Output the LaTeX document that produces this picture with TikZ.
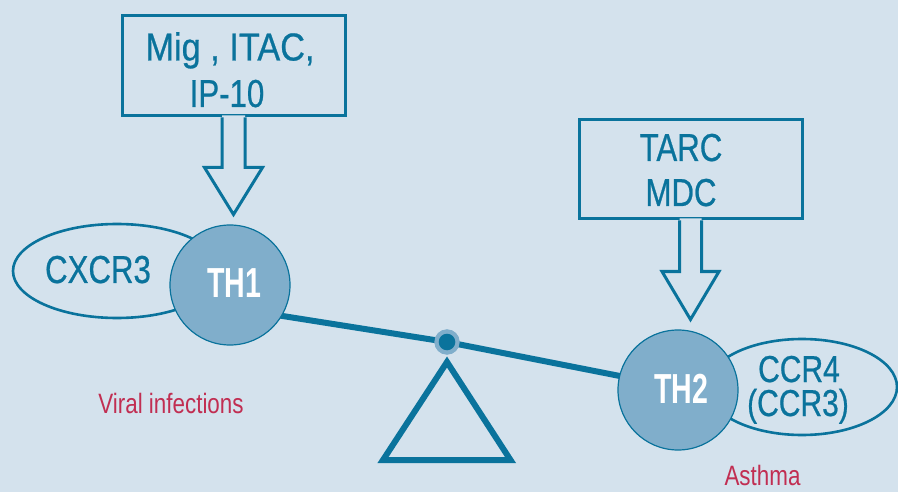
\documentclass[tikz,border=0pt]{standalone}
\usepackage{fontspec}
\setmainfont{Liberation Sans}[FakeStretch=0.8]
\newfontfamily\lblfont{Liberation Sans}[FakeStretch=0.8,FakeBold=0.6]
\newfontfamily\thfont{Liberation Sans}[FakeStretch=0.68]
\newfontfamily\widefont{Liberation Sans}[FakeStretch=0.88,FakeBold=0.6]
\usetikzlibrary{shapes.geometric}
\definecolor{bg}{HTML}{D4E2ED}
\definecolor{mainblue}{HTML}{0A739C}
\definecolor{cellfill}{HTML}{80AECB}
\definecolor{redtxt}{HTML}{C12E52}
\tikzset{
  lbl/.style={inner sep=0pt, anchor=base, text=mainblue, font=\lblfont\fontsize{39}{39}\selectfont},
  smalllbl/.style={inner sep=0pt, anchor=base, text=mainblue, font=\lblfont\fontsize{37.5}{37.5}\selectfont},
  redlbl/.style={inner sep=0pt, anchor=base, text=redtxt, font=\fontsize{28}{28}\selectfont},
  thlbl/.style={inner sep=0pt, anchor=base, text=white, font=\thfont\bfseries\fontsize{42}{42}\selectfont},
  chembox/.style={draw=mainblue, line width=3pt, inner sep=0pt, rectangle},
  arrowfill/.style={fill=bg},
  arrowline/.style={draw=mainblue, line width=3pt, line join=miter},
  receptor/.style={draw=mainblue, line width=2.6pt, ellipse, inner sep=0pt},
  cell/.style={circle, draw=mainblue, line width=1.2pt, fill=cellfill, minimum size=120pt, inner sep=0pt},
  beam/.style={draw=mainblue, line width=6pt},
}
\begin{document}
\begin{tikzpicture}[x=1pt,y=-1pt]
\fill[bg] (0,0) rectangle (898,492);
\useasboundingbox (0,0) rectangle (898,492);

% receptor ellipses
\node[receptor, minimum width=208pt, minimum height=94pt] (cxcr3) at (117,271) {};
\node[receptor, minimum width=190pt, minimum height=96pt] (ccr4) at (802,387) {};

% boxes
\node[chembox, minimum width=223pt, minimum height=100pt] (box1) at (233.5,66) {};
\node[chembox, minimum width=223pt, minimum height=99pt] (box2) at (690.5,169.5) {};

% hollow arrows (box1)
\path[arrowfill] ([xshift=-11.5pt,yshift=2pt]box1.south) -- ([xshift=-11.5pt,yshift=-50pt]box1.south) -- ([xshift=-29pt,yshift=-50pt]box1.south) -- ([yshift=-97pt]box1.south) -- ([xshift=29pt,yshift=-50pt]box1.south) -- ([xshift=11.5pt,yshift=-50pt]box1.south) -- ([xshift=11.5pt,yshift=2pt]box1.south) -- cycle;
\draw[arrowline] ([xshift=-11.5pt]box1.south) -- ([xshift=-11.5pt,yshift=-50pt]box1.south) -- ([xshift=-29pt,yshift=-50pt]box1.south) -- ([yshift=-97pt]box1.south) -- ([xshift=29pt,yshift=-50pt]box1.south) -- ([xshift=11.5pt,yshift=-50pt]box1.south) -- ([xshift=11.5pt]box1.south);

% hollow arrows (box2)
\path[arrowfill] ([xshift=-11pt,yshift=2pt]box2.south) -- ([xshift=-11pt,yshift=-51pt]box2.south) -- ([xshift=-28.5pt,yshift=-51pt]box2.south) -- ([yshift=-99pt]box2.south) -- ([xshift=28.5pt,yshift=-51pt]box2.south) -- ([xshift=11pt,yshift=-51pt]box2.south) -- ([xshift=11pt,yshift=2pt]box2.south) -- cycle;
\draw[arrowline] ([xshift=-11pt]box2.south) -- ([xshift=-11pt,yshift=-51pt]box2.south) -- ([xshift=-28.5pt,yshift=-51pt]box2.south) -- ([yshift=-99pt]box2.south) -- ([xshift=28.5pt,yshift=-51pt]box2.south) -- ([xshift=11pt,yshift=-51pt]box2.south) -- ([xshift=11pt]box2.south);

% box texts
\node[lbl, font=\widefont\fontsize{39}{39}\selectfont] (t1) at (230,60.5) {Mig , ITAC,};
\node[lbl] (t2) at (227,107) {IP-10};
\node[lbl] (t3) at (681,161) {TARC};
\node[lbl] (t4) at (681,206) {MDC};

% pivot and beam
\node[circle, fill=cellfill, minimum size=25pt, inner sep=0pt] (piv) at (447,342) {};
\coordinate (bl) at (270,314);
\coordinate (br) at (630,378);
\draw[beam] (bl) -- (piv.center) -- (br);

% cells
\node[cell] (th1) at (230,285) {};
\node[cell] (th2) at (678,390) {};
\node[thlbl] at (234,298) {TH1};
\node[thlbl] at (681,403) {TH2};

% receptor texts
\node[lbl] (cx) at (98,283) {CXCR3};
\node[smalllbl] (c4) at (799,382) {CCR4};
\node[smalllbl] (c3) at (798,416) {(CCR3)};

% pivot on top
\fill[cellfill] (piv) circle (12.7pt);
\fill[mainblue] (piv) circle (8.3pt);

% fulcrum triangle
\draw[mainblue, line width=6pt, line join=miter] (447,362) -- (510.5,460) -- (383,460) -- cycle;

% disease labels
\node[redlbl] (vir) at (171,413) {Viral infections};
\node[redlbl] (ast) at (762.5,485) {Asthma};
\end{tikzpicture}
\end{document}
